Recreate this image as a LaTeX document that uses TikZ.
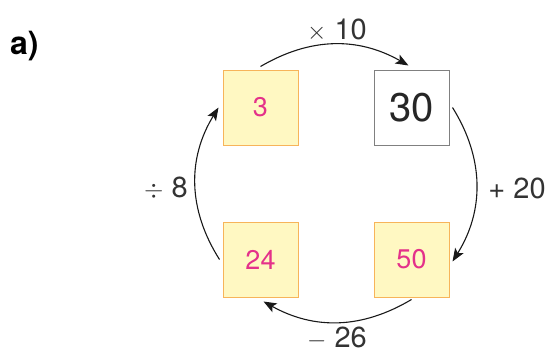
\documentclass[tikz,border=0pt]{standalone}
\usepackage{fontspec}
\setmainfont{TeX Gyre Heros}
\usetikzlibrary{positioning,arrows.meta}
\definecolor{BoxFill}{HTML}{FFF8C2}
\definecolor{BoxEdge}{HTML}{F7B45A}
\definecolor{NumPink}{HTML}{E4318A}
\definecolor{BoxGray}{HTML}{808080}
\tikzset{
  numbox/.style={draw=BoxEdge,fill=BoxFill,line width=1pt,
    minimum width=75pt,minimum height=75pt,inner sep=0pt,
    font=\fontsize{27}{30}\selectfont\color{NumPink}},
  resbox/.style={draw=BoxGray,fill=white,line width=1pt,
    minimum width=75pt,minimum height=75pt,inner sep=0pt,
    font=\fontsize{40}{44}\selectfont\color{black!85}},
  oplabel/.style={font=\fontsize{29}{32}\selectfont,text=black!80,inner sep=0pt},
  cyclearc/.style={line width=1.1pt,draw=black!90,
    -{Stealth[length=13pt,width=10pt,inset=3pt]}},
}
\begin{document}
\begin{tikzpicture}[x=1pt,y=-1pt]
  \useasboundingbox (0,0) rectangle (548,353);
  \node[font=\fontsize{32}{34}\selectfont\bfseries,anchor=west,inner sep=0pt] (lbl) at (10,46) {a)};
  % boxes
  \node[numbox] (b3)  at (260.5,107.5) {3};
  \node[resbox] (b30) at (411.5,107.5) {30};
  \node[numbox] (b24) at (260.5,259.5) {24};
  \node[numbox] (b50) at (411.5,259.5) {50};
  % arcs round the cycle
  \draw[cyclearc] ([yshift=3pt]b3.north) to[bend left=30] ([xshift=-3pt,yshift=4pt]b30.north);
  \draw[cyclearc] ([xshift=3pt]b30.east) to[bend left=32] ([xshift=3pt,yshift=-2pt]b50.east);
  \draw[cyclearc] ([yshift=-2pt]b50.south) to[bend left=30] ([xshift=3pt,yshift=-4pt]b24.south);
  \draw[cyclearc] ([xshift=-3pt]b24.west) to[bend left=32] ([xshift=-4pt]b3.west);
  % operations
  \node[oplabel] (opa) at (337,30) {$\times$ 10};
  \node[oplabel] (opb) at (517,188) {+ 20};
  \node[oplabel] (opc) at (337,338) {$-$ 26};
  \node[oplabel] (opd) at (166,188) {$\div$ 8};
\end{tikzpicture}
\end{document}
